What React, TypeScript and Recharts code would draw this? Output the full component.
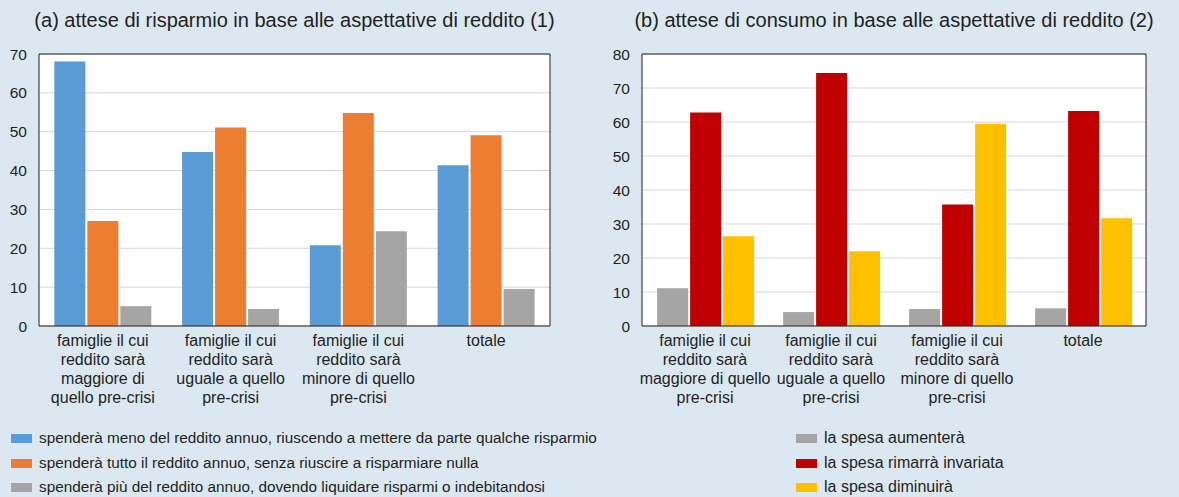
import React from "react";
import { BarChart, Bar, XAxis, YAxis, CartesianGrid, ReferenceLine } from "recharts";

// categorie (righe delle etichette dell'asse x)
const labelsA = [
  ["famiglie il cui", "reddito sarà", "maggiore di", "quello pre-crisi"],
  ["famiglie il cui", "reddito sarà", "uguale a quello", "pre-crisi"],
  ["famiglie il cui", "reddito sarà", "minore di quello", "pre-crisi"],
  ["totale"],
];
const labelsB = [
  ["famiglie il cui", "reddito sarà", "maggiore di quello", "pre-crisi"],
  ["famiglie il cui", "reddito sarà", "uguale a quello", "pre-crisi"],
  ["famiglie il cui", "reddito sarà", "minore di quello", "pre-crisi"],
  ["totale"],
];

// (a) attese di risparmio
const spendeMeno = [68.1, 44.8, 20.8, 41.4];
const spendeTutto = [27.0, 51.1, 54.8, 49.1];
const spendePiu = [5.1, 4.4, 24.4, 9.5];

// (b) attese di consumo
const spesaAumentera = [11.1, 4.1, 5.0, 5.2];
const spesaInvariata = [62.8, 74.4, 35.7, 63.2];
const spesaDiminuira = [26.4, 22.0, 59.5, 31.7];

const ticksA = [0, 10, 20, 30, 40, 50, 60, 70];
const ticksB = [0, 10, 20, 30, 40, 50, 60, 70, 80];

const seriesA = [
  { key: "meno", name: "spenderà meno del reddito annuo, riuscendo a mettere da parte qualche risparmio", color: "#5b9bd5" },
  { key: "tutto", name: "spenderà tutto il reddito annuo, senza riuscire a risparmiare nulla", color: "#ed7d31" },
  { key: "piu", name: "spenderà più del reddito annuo, dovendo liquidare risparmi o indebitandosi", color: "#a5a5a5" },
];
const seriesB = [
  { key: "aumentera", name: "la spesa aumenterà", color: "#a5a5a5" },
  { key: "invariata", name: "la spesa rimarrà invariata", color: "#c00000" },
  { key: "diminuira", name: "la spesa diminuirà", color: "#ffc000" },
];

const dataA = labelsA.map((l, i) => ({
  name: l.join(" "),
  meno: spendeMeno[i],
  tutto: spendeTutto[i],
  piu: spendePiu[i],
}));
const dataB = labelsB.map((l, i) => ({
  name: l.join(" "),
  aumentera: spesaAumentera[i],
  invariata: spesaInvariata[i],
  diminuira: spesaDiminuira[i],
}));

const FONT = '"Liberation Sans", Arial, Helvetica, sans-serif';
const TEXT = "#231f20";
const BG = "#dce8f1";

const makeTick = (labels: string[][]) => (props: any) => {
  const { x, y, index } = props;
  const lines = labels[index] || [];
  return (
    <text x={x} y={y} textAnchor="middle" fill={TEXT} fontSize={16} fontFamily={FONT}>
      {lines.map((ln, i) => (
        <tspan key={i} x={x} dy={i === 0 ? 12 : 19}>
          {ln}
        </tspan>
      ))}
    </text>
  );
};

const tickStyle = { fill: TEXT, fontSize: 15.5, fontFamily: FONT };

interface PanelProps {
  data: any[];
  series: { key: string; name: string; color: string }[];
  labels: string[][];
  ticks: number[];
  width: number;
  leftW: number;
  rightW: number;
}

const Panel = ({ data, series, labels, ticks, width, leftW, rightW }: PanelProps) => {
  const max = ticks[ticks.length - 1];
  return (
    <BarChart
      width={width}
      height={420}
      data={data}
      margin={{ top: 54, right: 0, left: 0, bottom: 0 }}
      barCategoryGap="12%"
      barGap={2}
    >
      <CartesianGrid vertical={false} stroke="#d6d6d6" fill="#ffffff" />
      <XAxis
        dataKey="name"
        height={94}
        axisLine={{ stroke: TEXT }}
        tickLine={false}
        interval={0}
        tick={makeTick(labels)}
      />
      <YAxis
        width={leftW}
        domain={[0, max]}
        ticks={ticks}
        axisLine={{ stroke: TEXT }}
        tickLine={false}
        tickMargin={6}
        tick={tickStyle}
      />
      <YAxis
        yAxisId="right"
        orientation="right"
        width={rightW}
        domain={[0, max]}
        ticks={ticks}
        axisLine={{ stroke: TEXT }}
        tickLine={false}
        tickMargin={6}
        tick={tickStyle}
      />
      <ReferenceLine y={max} stroke={TEXT} />
      {series.map((s) => (
        <Bar key={s.key} dataKey={s.key} name={s.name} fill={s.color} isAnimationActive={false} />
      ))}
    </BarChart>
  );
};

const LegendItem = ({ color, label, x, y, size }: { color: string; label: string; x: number; y: number; size: number }) => (
  <div style={{ position: "absolute", left: x, top: y - 10, height: 20, display: "flex", alignItems: "center" }}>
    <div style={{ width: 21, height: 9, background: color, marginRight: 7 }} />
    <span style={{ fontSize: size, color: TEXT, fontFamily: FONT, whiteSpace: "nowrap" }}>{label}</span>
  </div>
);

export default function App() {
  const legendY = [438, 463, 487];
  return (
    <div
      style={{
        position: "absolute",
        left: 0,
        top: 0,
        width: 1179,
        height: 497,
        background: BG,
        fontFamily: FONT,
        overflow: "hidden",
      }}
    >
      <div style={{ position: "absolute", left: 0, top: 0 }}>
        <Panel data={dataA} series={seriesA} labels={labelsA} ticks={ticksA} width={590} leftW={39} rightW={40} />
      </div>
      <div style={{ position: "absolute", left: 600, top: 0 }}>
        <Panel data={dataB} series={seriesB} labels={labelsB} ticks={ticksB} width={579} leftW={42} rightW={33} />
      </div>
      <div style={{ position: "absolute", left: 294.5 - 300, width: 600, top: 8, textAlign: "center", fontSize: 20, lineHeight: "24px", color: TEXT }}>
        (a) attese di risparmio in base alle aspettative di reddito (1)
      </div>
      <div style={{ position: "absolute", left: 894 - 300, width: 600, top: 8, textAlign: "center", fontSize: 20, lineHeight: "24px", color: TEXT }}>
        (b) attese di consumo in base alle aspettative di reddito (2)
      </div>
      {seriesA.map((s, i) => (
        <LegendItem key={s.key} color={s.color} label={s.name} x={11} y={legendY[i]} size={15.3} />
      ))}
      {seriesB.map((s, i) => (
        <LegendItem key={s.key} color={s.color} label={s.name} x={796} y={legendY[i]} size={16} />
      ))}
    </div>
  );
}
